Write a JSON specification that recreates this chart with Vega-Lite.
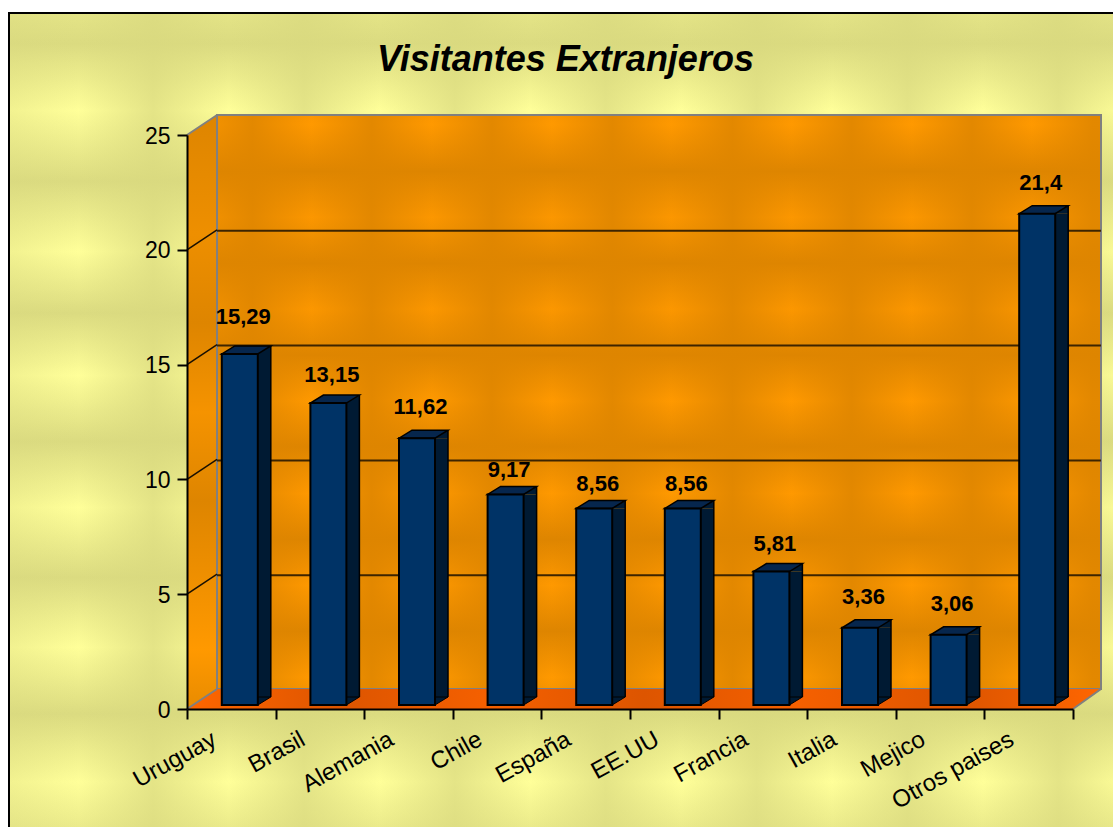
{"$schema":"https://vega.github.io/schema/vega-lite/v6.json","width":1113,"height":827,"padding":0,"autosize":"none","background":"white",
"title":{"text":"Visitantes Extranjeros","font":"Liberation Sans","fontSize":36,"fontStyle":"italic","fontWeight":"bold","color":"black","anchor":"middle","dx":9,"offset":-79},
"config":{"view":{"stroke":null},"font":"Liberation Sans"},
"datasets":{
"unidad":[{"capa":"decorado"}],
"visitantes":[{"pais":"Uruguay","pct":15.29,"etiqueta":"15,29"},{"pais":"Brasil","pct":13.15,"etiqueta":"13,15"},{"pais":"Alemania","pct":11.62,"etiqueta":"11,62"},{"pais":"Chile","pct":9.17,"etiqueta":"9,17"},{"pais":"España","pct":8.56,"etiqueta":"8,56"},{"pais":"EE.UU","pct":8.56,"etiqueta":"8,56"},{"pais":"Francia","pct":5.81,"etiqueta":"5,81"},{"pais":"Italia","pct":3.36,"etiqueta":"3,36"},{"pais":"Mejico","pct":3.06,"etiqueta":"3,06"},{"pais":"Otros paises","pct":21.4,"etiqueta":"21,4"}],
"paredIzq":[{"u":0,"base":0,"tope":25},{"u":0.339,"base":0.871,"tope":25.871}],
"piso":[{"u":0,"base":0,"tope":0},{"u":0.339,"base":0,"tope":0.871},{"u":10,"base":0,"tope":0.871},{"u":10.316,"base":0.871,"tope":0.871}],
"diagonales":[{"linea":"a5","u":0,"v":5},{"linea":"a5","u":0.339,"v":5.871},{"linea":"a10","u":0,"v":10},{"linea":"a10","u":0.339,"v":10.871},{"linea":"a15","u":0,"v":15},{"linea":"a15","u":0.339,"v":15.871},{"linea":"a20","u":0,"v":20},{"linea":"a20","u":0.339,"v":20.871}],
"bordes":[{"linea":"b0","u":0,"v":0},{"linea":"b0","u":0.339,"v":0.871},{"linea":"b25","u":0,"v":25},{"linea":"b25","u":0.339,"v":25.871},{"linea":"c","u":10,"v":0},{"linea":"c","u":10.316,"v":0.871}],
"rejilla":[{"v":5},{"v":10},{"v":15},{"v":20}]
},
"resolve":{"scale":{"x":"independent","y":"independent"}},
"layer":[
{"data":{"name":"unidad"},"mark":{"type":"rect","fill":"#FFFF99"},"encoding":{
"x":{"datum":-2.009,"type":"quantitative","scale":{"domain":[0,10],"range":[187,1073]},"axis":null},"x2":{"datum":10.51},
"y":{"datum":30.31,"type":"quantitative","scale":{"domain":[0,25],"range":[709,135]},"axis":null},"y2":{"datum":-5.36}}},
{"data":{"name":"unidad"},"mark":{"type":"rect","fill":{"gradient":"linear","x1":0,"y1":0,"x2":0,"y2":1,"stops":[
{"offset":0,"color":"rgba(217,217,127,0.7)"},{"offset":0.037,"color":"rgba(217,217,127,0.95)"},{"offset":0.119,"color":"rgba(217,217,127,0)"},{"offset":0.205,"color":"rgba(217,217,127,0.95)"},{"offset":0.291,"color":"rgba(217,217,127,0)"},{"offset":0.366,"color":"rgba(217,217,127,0.95)"},{"offset":0.442,"color":"rgba(217,217,127,0)"},{"offset":0.523,"color":"rgba(217,217,127,0.95)"},{"offset":0.604,"color":"rgba(217,217,127,0)"},{"offset":0.689,"color":"rgba(217,217,127,0.95)"},{"offset":0.774,"color":"rgba(217,217,127,0)"},{"offset":0.856,"color":"rgba(217,217,127,0.95)"},{"offset":0.939,"color":"rgba(217,217,127,0)"},{"offset":1,"color":"rgba(217,217,127,0.6)"}]}},"encoding":{
"x":{"datum":-2.009,"type":"quantitative","scale":{"domain":[0,10],"range":[187,1073]},"axis":null},"x2":{"datum":10.51},
"y":{"datum":30.31,"type":"quantitative","scale":{"domain":[0,25],"range":[709,135]},"axis":null},"y2":{"datum":-5.36}}},
{"data":{"name":"unidad"},"mark":{"type":"rect","stroke":"black","strokeWidth":2,"fill":{"gradient":"linear","x1":0,"y1":0,"x2":1,"y2":0,"stops":[
{"offset":0,"color":"rgba(217,217,127,0.35)"},{"offset":0.0625,"color":"rgba(217,217,127,0)"},{"offset":0.13,"color":"rgba(217,217,127,0.7)"},{"offset":0.198,"color":"rgba(217,217,127,0)"},{"offset":0.266,"color":"rgba(217,217,127,0.7)"},{"offset":0.334,"color":"rgba(217,217,127,0)"},{"offset":0.402,"color":"rgba(217,217,127,0.7)"},{"offset":0.47,"color":"rgba(217,217,127,0)"},{"offset":0.538,"color":"rgba(217,217,127,0.7)"},{"offset":0.606,"color":"rgba(217,217,127,0)"},{"offset":0.674,"color":"rgba(217,217,127,0.7)"},{"offset":0.742,"color":"rgba(217,217,127,0)"},{"offset":0.81,"color":"rgba(217,217,127,0.7)"},{"offset":0.878,"color":"rgba(217,217,127,0)"},{"offset":0.946,"color":"rgba(217,217,127,0.7)"},{"offset":1,"color":"rgba(217,217,127,0.1)"}]}},"encoding":{
"x":{"datum":-2.009,"type":"quantitative","scale":{"domain":[0,10],"range":[187,1073]},"axis":null},"x2":{"datum":10.51},
"y":{"datum":30.31,"type":"quantitative","scale":{"domain":[0,25],"range":[709,135]},"axis":null},"y2":{"datum":-5.36}}},
{"data":{"name":"paredIzq"},"mark":{"type":"area","fill":{"gradient":"linear","x1":0,"y1":0,"x2":0,"y2":1,"stops":[{"offset":0,"color":"#DE8500"},{"offset":0.2,"color":"#EE8F00"},{"offset":0.35,"color":"#DE8500"},{"offset":0.5,"color":"#F59300"},{"offset":0.65,"color":"#DE8500"},{"offset":0.9,"color":"#FF9900"},{"offset":1,"color":"#E88B00"}]}},"encoding":{
"x":{"field":"u","type":"quantitative","scale":{"domain":[0,10],"range":[187,1073]},"axis":null},
"y":{"field":"tope","type":"quantitative","scale":{"domain":[0,25],"range":[709,135]},"axis":null},"y2":{"field":"base"}}},
{"data":{"name":"unidad"},"mark":{"type":"rect","fill":"#FF9900"},"encoding":{
"x":{"datum":0.339,"type":"quantitative","scale":{"domain":[0,10],"range":[187,1073]},"axis":null},"x2":{"datum":10.316},
"y":{"datum":25.871,"type":"quantitative","scale":{"domain":[0,25],"range":[709,135]},"axis":null},"y2":{"datum":0.871}}},
{"data":{"name":"unidad"},"mark":{"type":"rect","fill":{"gradient":"linear","x1":0,"y1":0,"x2":0,"y2":1,"stops":[
{"offset":0,"color":"rgba(222,133,0,0.1)"},{"offset":0.017,"color":"rgba(222,133,0,0)"},{"offset":0.098,"color":"rgba(222,133,0,1)"},{"offset":0.178,"color":"rgba(222,133,0,0.1)"},{"offset":0.258,"color":"rgba(222,133,0,1)"},{"offset":0.338,"color":"rgba(222,133,0,0.1)"},{"offset":0.418,"color":"rgba(222,133,0,1)"},{"offset":0.498,"color":"rgba(222,133,0,0)"},{"offset":0.578,"color":"rgba(222,133,0,1)"},{"offset":0.659,"color":"rgba(222,133,0,0)"},{"offset":0.739,"color":"rgba(222,133,0,1)"},{"offset":0.819,"color":"rgba(222,133,0,0)"},{"offset":0.899,"color":"rgba(222,133,0,1)"},{"offset":0.979,"color":"rgba(222,133,0,0)"},{"offset":1,"color":"rgba(222,133,0,0.2)"}]}},"encoding":{
"x":{"datum":0.339,"type":"quantitative","scale":{"domain":[0,10],"range":[187,1073]},"axis":null},"x2":{"datum":10.316},
"y":{"datum":25.871,"type":"quantitative","scale":{"domain":[0,25],"range":[709,135]},"axis":null},"y2":{"datum":0.871}}},
{"data":{"name":"unidad"},"mark":{"type":"rect","stroke":"#808080","strokeWidth":2,"fill":{"gradient":"linear","x1":0,"y1":0,"x2":1,"y2":0,"stops":[
{"offset":0,"color":"rgba(222,133,0,0.4)"},{"offset":0.04,"color":"rgba(222,133,0,0.85)"},{"offset":0.107,"color":"rgba(222,133,0,0)"},{"offset":0.175,"color":"rgba(222,133,0,0.85)"},{"offset":0.243,"color":"rgba(222,133,0,0)"},{"offset":0.311,"color":"rgba(222,133,0,0.85)"},{"offset":0.379,"color":"rgba(222,133,0,0)"},{"offset":0.447,"color":"rgba(222,133,0,0.85)"},{"offset":0.514,"color":"rgba(222,133,0,0)"},{"offset":0.583,"color":"rgba(222,133,0,0.85)"},{"offset":0.65,"color":"rgba(222,133,0,0)"},{"offset":0.718,"color":"rgba(222,133,0,0.85)"},{"offset":0.786,"color":"rgba(222,133,0,0)"},{"offset":0.854,"color":"rgba(222,133,0,0.85)"},{"offset":0.922,"color":"rgba(222,133,0,0)"},{"offset":0.99,"color":"rgba(222,133,0,0.85)"},{"offset":1,"color":"rgba(222,133,0,0.85)"}]}},"encoding":{
"x":{"datum":0.339,"type":"quantitative","scale":{"domain":[0,10],"range":[187,1073]},"axis":null},"x2":{"datum":10.316},
"y":{"datum":25.871,"type":"quantitative","scale":{"domain":[0,25],"range":[709,135]},"axis":null},"y2":{"datum":0.871}}},
{"data":{"name":"piso"},"mark":{"type":"area","fill":{"gradient":"linear","x1":0,"y1":0,"x2":1,"y2":0,"stops":[{"offset":0,"color":"#FF6600"},{"offset":0.17,"color":"#DD5500"},{"offset":0.33,"color":"#F56000"},{"offset":0.5,"color":"#DD5500"},{"offset":0.67,"color":"#F56000"},{"offset":0.85,"color":"#DD5500"},{"offset":1,"color":"#FF6600"}]}},"encoding":{
"x":{"field":"u","type":"quantitative","scale":{"domain":[0,10],"range":[187,1073]},"axis":null},
"y":{"field":"tope","type":"quantitative","scale":{"domain":[0,25],"range":[709,135]},"axis":null},"y2":{"field":"base"}}},
{"data":{"name":"bordes"},"mark":{"type":"line","stroke":"#808080","strokeWidth":2},"encoding":{
"x":{"field":"u","type":"quantitative","scale":{"domain":[0,10],"range":[187,1073]},"axis":null},
"y":{"field":"v","type":"quantitative","scale":{"domain":[0,25],"range":[709,135]},"axis":null},"detail":{"field":"linea"}}},
{"data":{"name":"diagonales"},"mark":{"type":"line","stroke":"#1a1000","strokeWidth":1.5},"encoding":{
"x":{"field":"u","type":"quantitative","scale":{"domain":[0,10],"range":[187,1073]},"axis":null},
"y":{"field":"v","type":"quantitative","scale":{"domain":[0,25],"range":[709,135]},"axis":null},"detail":{"field":"linea"}}},
{"data":{"name":"rejilla"},"mark":{"type":"rule","stroke":"#3d2400","strokeWidth":2,"yOffset":-19},"encoding":{
"x":{"datum":0.339,"type":"quantitative","scale":{"domain":[0,10],"range":[187,1073]},"axis":null},"x2":{"datum":10.316},
"y":{"field":"v","type":"quantitative","scale":{"domain":[0,25],"range":[709,135]},"axis":null}}},
{"data":{"name":"visitantes"},"mark":{"type":"rect","fill":"#001A33","width":13,"xOffset":33,"yOffset":-4,"y2Offset":-12},"encoding":{
"x":{"field":"pais","type":"nominal","sort":null,"scale":{"range":[187,1073],"paddingInner":0,"paddingOuter":0},"axis":{"zindex":1,"title":null,"orient":"bottom","offset":-118,"tickBand":"extent","domainColor":"black","domainWidth":2,"tickColor":"black","tickWidth":2,"tickSize":10,"labelAngle":-29,"labelAlign":"right","labelBaseline":"top","labelFont":"Liberation Sans","labelFontSize":24,"labelColor":"black","labelPadding":8,"labelOffset":-23,"labelOverlap":false}},
"y":{"field":"pct","type":"quantitative","scale":{"domain":[0,25],"range":[709,135]},"axis":{"zindex":1,"title":null,"orient":"left","offset":-187,"values":[0,5,10,15,20,25],"grid":false,"domainColor":"black","domainWidth":2,"tickColor":"black","tickWidth":2,"tickSize":10,"labelFont":"Liberation Sans","labelFontSize":23,"labelColor":"black","labelPadding":7,"labelOffset":1}},
"y2":{"datum":0}}},
{"data":{"name":"visitantes"},"mark":{"type":"point","shape":"M18,0L31,-8L31,0Z","size":4,"filled":true,"fill":"#001A33","opacity":1,"xOffset":8.5,"yOffset":-4},"encoding":{
"x":{"field":"pais","type":"nominal","sort":null,"scale":{"range":[187,1073],"paddingInner":0,"paddingOuter":0},"axis":null},
"y":{"field":"pct","type":"quantitative","scale":{"domain":[0,25],"range":[709,135]},"axis":null}}},
{"data":{"name":"visitantes"},"mark":{"type":"point","shape":"M18,0L31,-8L18,-8Z","size":4,"filled":true,"fill":"#001A33","stroke":"black","strokeWidth":1,"opacity":1,"xOffset":8.5,"yOffset":-4},"encoding":{
"x":{"field":"pais","type":"nominal","sort":null,"scale":{"range":[187,1073],"paddingInner":0,"paddingOuter":0},"axis":null},
"y":{"datum":0,"type":"quantitative","scale":{"domain":[0,25],"range":[709,135]},"axis":null}}},
{"data":{"name":"visitantes"},"mark":{"type":"rule","stroke":"black","strokeWidth":1.5,"xOffset":39.5,"yOffset":-12,"y2Offset":-12},"encoding":{
"x":{"field":"pais","type":"nominal","sort":null,"scale":{"range":[187,1073],"paddingInner":0,"paddingOuter":0},"axis":null},
"y":{"field":"pct","type":"quantitative","scale":{"domain":[0,25],"range":[709,135]},"axis":null},"y2":{"datum":0}}},
{"data":{"name":"visitantes"},"mark":{"type":"point","shape":"M-18,0L18,0L31,-8L-5,-8Z","size":4,"filled":true,"fill":"#06264D","stroke":"black","strokeWidth":1.5,"opacity":1,"xOffset":8.5,"yOffset":-4},"encoding":{
"x":{"field":"pais","type":"nominal","sort":null,"scale":{"range":[187,1073],"paddingInner":0,"paddingOuter":0},"axis":null},
"y":{"field":"pct","type":"quantitative","scale":{"domain":[0,25],"range":[709,135]},"axis":null}}},
{"data":{"name":"visitantes"},"mark":{"type":"rect","fill":"#003366","stroke":"black","strokeWidth":2,"width":36,"xOffset":8.5,"yOffset":-4,"y2Offset":-4},"encoding":{
"x":{"field":"pais","type":"nominal","sort":null,"scale":{"range":[187,1073],"paddingInner":0,"paddingOuter":0},"axis":null},
"y":{"field":"pct","type":"quantitative","scale":{"domain":[0,25],"range":[709,135]},"axis":null},"y2":{"datum":0}}},
{"data":{"name":"visitantes"},"transform":[{"filter":{"field":"pais","oneOf":["Uruguay"]}}],"mark":{"type":"text","font":"Liberation Sans","fontSize":22,"fontWeight":"bold","color":"black","xOffset":12,"yOffset":-41,"baseline":"middle"},"encoding":{
"x":{"field":"pais","type":"nominal","sort":null,"scale":{"domain":["Uruguay","Brasil","Alemania","Chile","España","EE.UU","Francia","Italia","Mejico","Otros paises"],"range":[187,1073],"paddingInner":0,"paddingOuter":0},"axis":null},
"y":{"field":"pct","type":"quantitative","scale":{"domain":[0,25],"range":[709,135]},"axis":null},"text":{"field":"etiqueta"}}},
{"data":{"name":"visitantes"},"transform":[{"filter":{"field":"pais","oneOf":["Chile","España","EE.UU"]}}],"mark":{"type":"text","font":"Liberation Sans","fontSize":22,"fontWeight":"bold","color":"black","xOffset":12,"yOffset":-28,"baseline":"middle"},"encoding":{
"x":{"field":"pais","type":"nominal","sort":null,"scale":{"domain":["Uruguay","Brasil","Alemania","Chile","España","EE.UU","Francia","Italia","Mejico","Otros paises"],"range":[187,1073],"paddingInner":0,"paddingOuter":0},"axis":null},
"y":{"field":"pct","type":"quantitative","scale":{"domain":[0,25],"range":[709,135]},"axis":null},"text":{"field":"etiqueta"}}},
{"data":{"name":"visitantes"},"transform":[{"filter":{"field":"pais","oneOf":["Brasil","Francia"]}}],"mark":{"type":"text","font":"Liberation Sans","fontSize":22,"fontWeight":"bold","color":"black","xOffset":12,"yOffset":-32,"baseline":"middle"},"encoding":{
"x":{"field":"pais","type":"nominal","sort":null,"scale":{"domain":["Uruguay","Brasil","Alemania","Chile","España","EE.UU","Francia","Italia","Mejico","Otros paises"],"range":[187,1073],"paddingInner":0,"paddingOuter":0},"axis":null},
"y":{"field":"pct","type":"quantitative","scale":{"domain":[0,25],"range":[709,135]},"axis":null},"text":{"field":"etiqueta"}}},
{"data":{"name":"visitantes"},"transform":[{"filter":{"field":"pais","oneOf":["Alemania","Italia","Mejico","Otros paises"]}}],"mark":{"type":"text","font":"Liberation Sans","fontSize":22,"fontWeight":"bold","color":"black","xOffset":12,"yOffset":-35,"baseline":"middle"},"encoding":{
"x":{"field":"pais","type":"nominal","sort":null,"scale":{"domain":["Uruguay","Brasil","Alemania","Chile","España","EE.UU","Francia","Italia","Mejico","Otros paises"],"range":[187,1073],"paddingInner":0,"paddingOuter":0},"axis":null},
"y":{"field":"pct","type":"quantitative","scale":{"domain":[0,25],"range":[709,135]},"axis":null},"text":{"field":"etiqueta"}}}
]}
